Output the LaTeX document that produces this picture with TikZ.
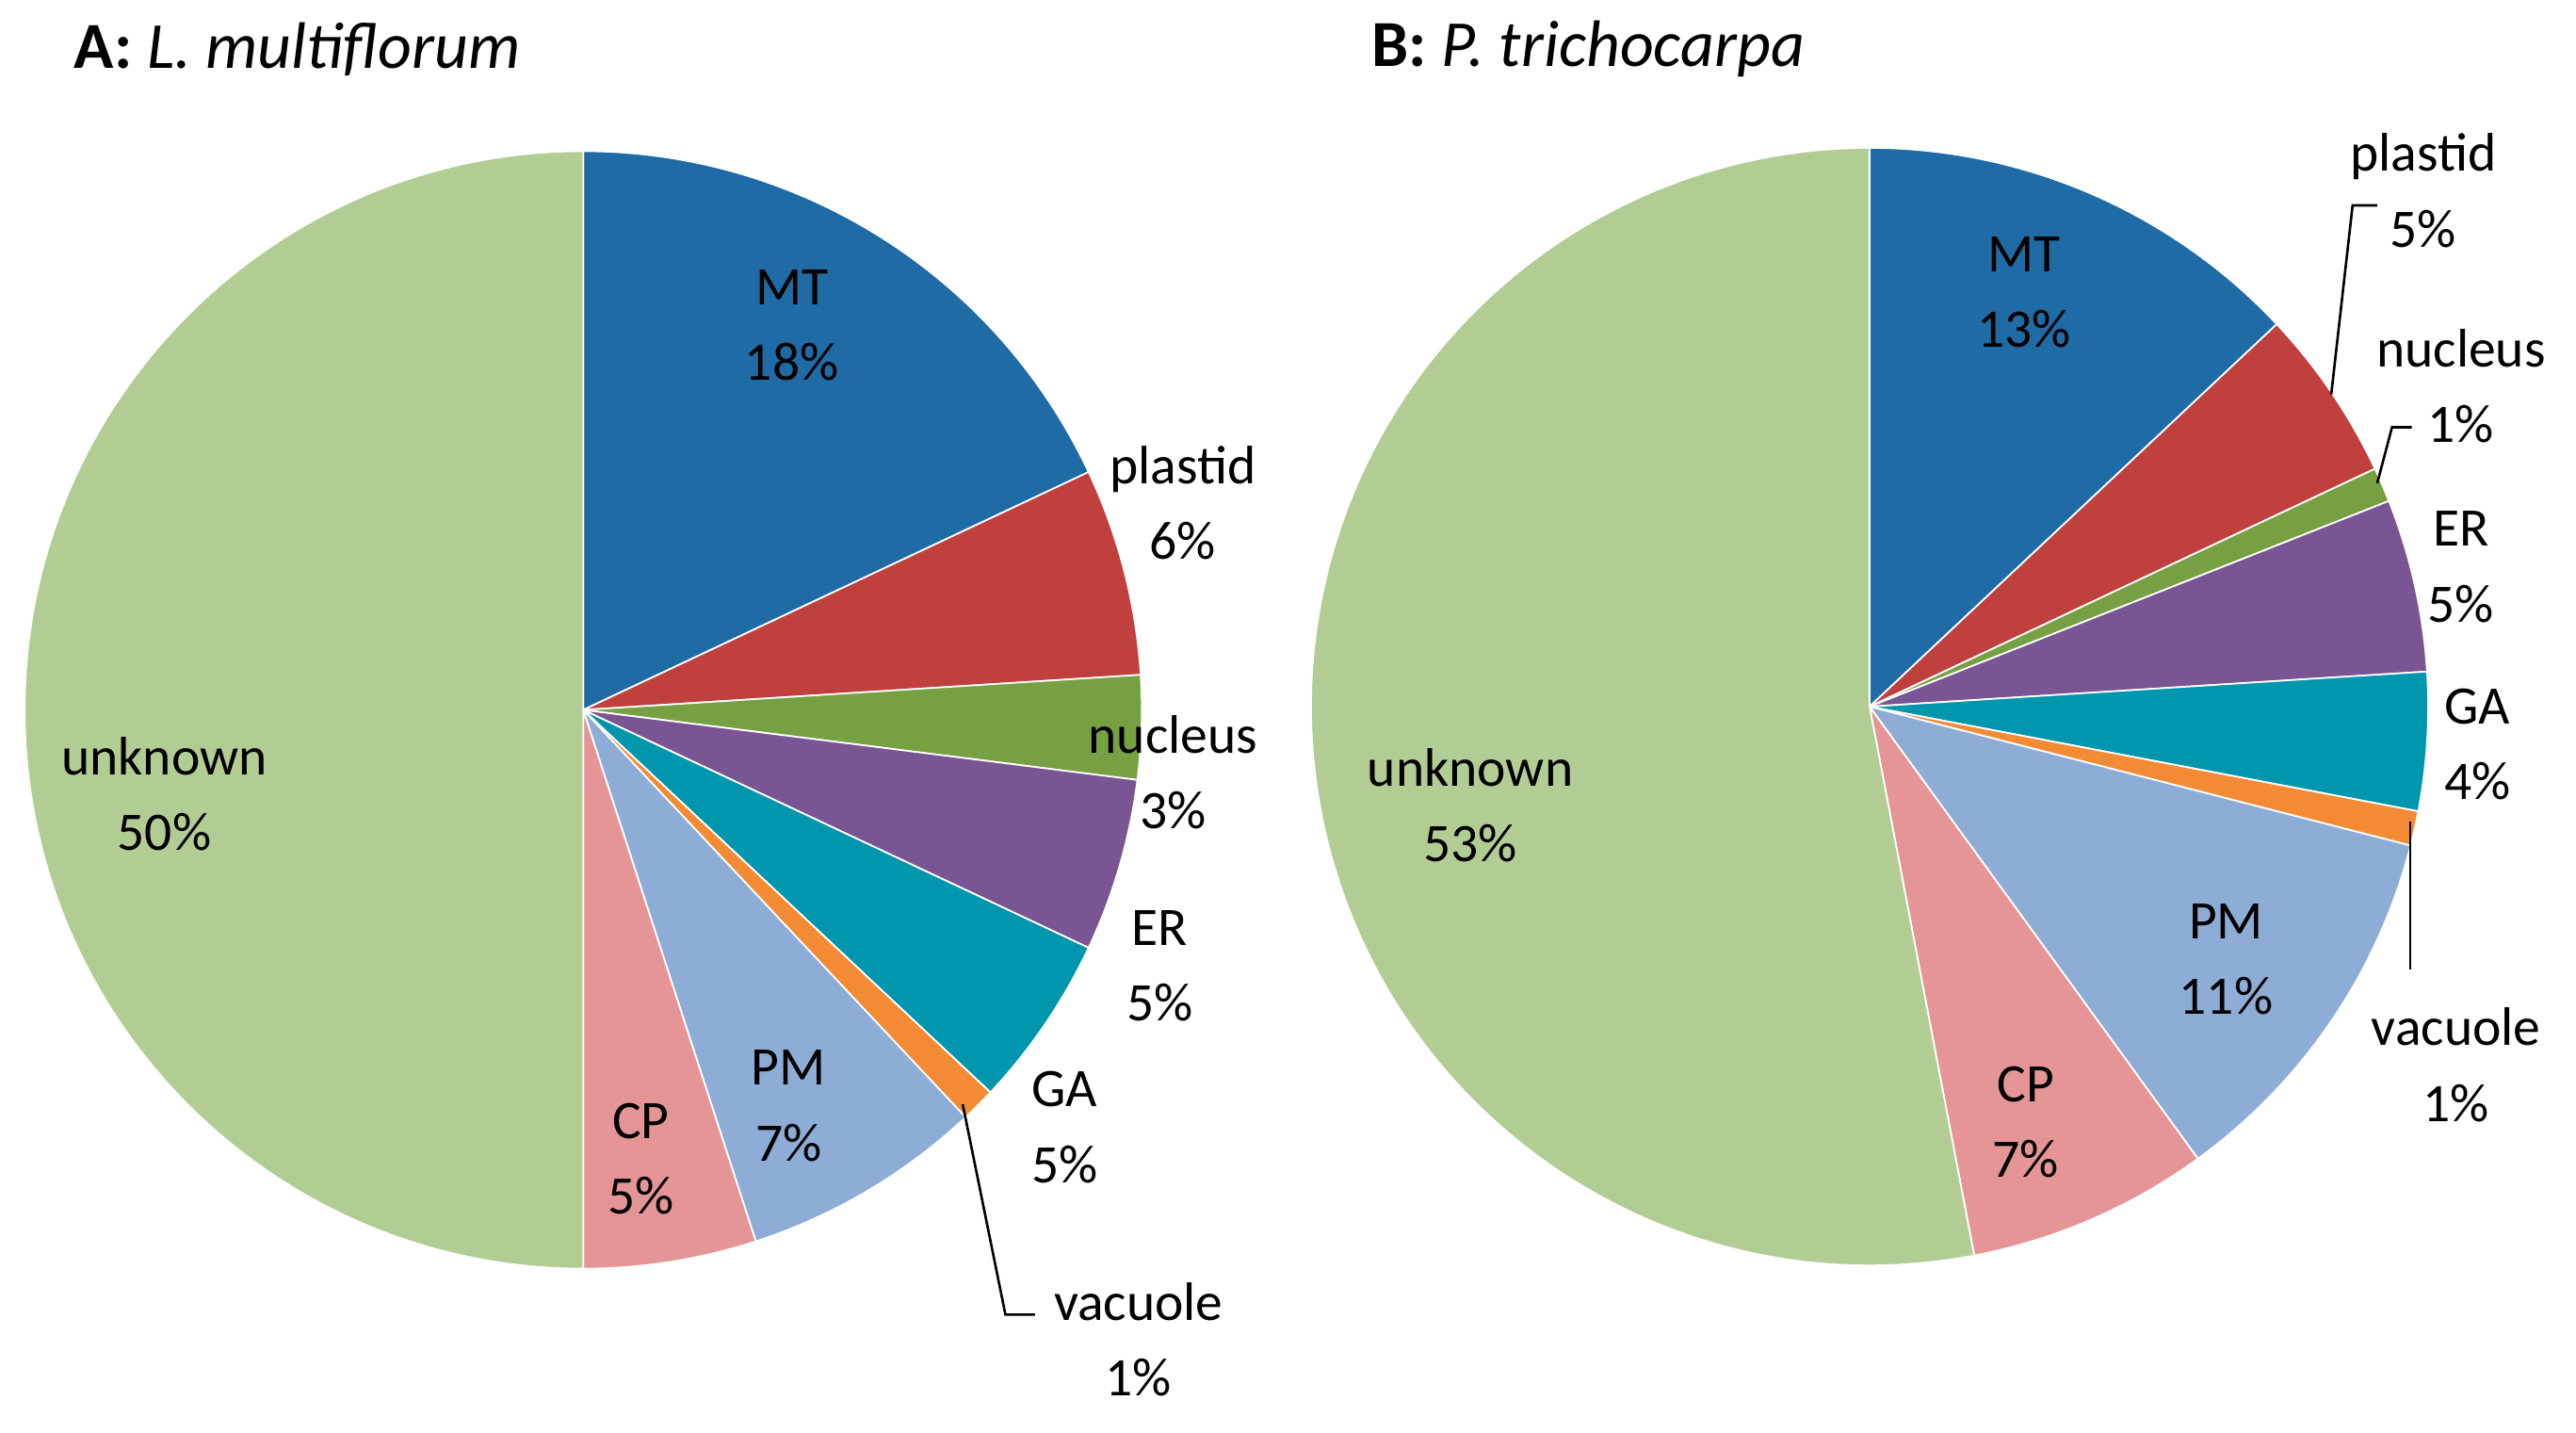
\documentclass[tikz,border=0pt]{standalone}
\usepackage{fontspec}
\setmainfont{Carlito}
\begin{document}
\begin{tikzpicture}[x=1pt,y=1pt,
 lab/.style={align=center,font=\fontsize{33}{46}\selectfont,inner sep=0pt},
 ttl/.style={anchor=west,font=\fontsize{40}{48}\selectfont,inner sep=0pt},
 lead/.style={draw=black,line width=1.5pt}]
\useasboundingbox (0,0) rectangle (1568,872);
\definecolor{cMT}{HTML}{1F6BA5}
\definecolor{cPL}{HTML}{C0403D}
\definecolor{cNU}{HTML}{77A043}
\definecolor{cER}{HTML}{7A5593}
\definecolor{cGA}{HTML}{0096AD}
\definecolor{cVA}{HTML}{F38B35}
\definecolor{cPM}{HTML}{8EADD6}
\definecolor{cCP}{HTML}{E59595}
\definecolor{cUN}{HTML}{B2CD94}
\newcommand{\myslice}[5]{\fill[#5,draw=white,line width=1pt] (#1) -- ++(#2:340) arc[start angle=#2,end angle=#3,radius=340] -- cycle;}
\coordinate (ca) at (355,440);
\coordinate (cb) at (1138,442);
% pie A
\myslice{ca}{90}{25.2}{}{cMT}
\myslice{ca}{25.2}{3.6}{}{cPL}
\myslice{ca}{3.6}{-7.2}{}{cNU}
\myslice{ca}{-7.2}{-25.2}{}{cER}
\myslice{ca}{-25.2}{-43.2}{}{cGA}
\myslice{ca}{-43.2}{-46.8}{}{cVA}
\myslice{ca}{-46.8}{-72}{}{cPM}
\myslice{ca}{-72}{-90}{}{cCP}
\myslice{ca}{-90}{-270}{}{cUN}
% pie B
\myslice{cb}{90}{43.2}{}{cMT}
\myslice{cb}{43.2}{25.2}{}{cPL}
\myslice{cb}{25.2}{21.6}{}{cNU}
\myslice{cb}{21.6}{3.6}{}{cER}
\myslice{cb}{3.6}{-10.8}{}{cGA}
\myslice{cb}{-10.8}{-14.4}{}{cVA}
\myslice{cb}{-14.4}{-54}{}{cPM}
\myslice{cb}{-54}{-79.2}{}{cCP}
\myslice{cb}{-79.2}{-270}{}{cUN}
% titles
\node[ttl] (ta) at (45,842) {\textbf{A:} \textit{L. multiflorum}};
\node[ttl] (tb) at (835,842) {\textbf{B:} \textit{P. trichocarpa}};
% labels A
\node[lab] (aMT) at (482,674) {MT\\18\%};
\node[lab] (aPL) at (720,566) {plastid\\6\%};
\node[lab] (aNU) at (714,402) {nucleus\\3\%};
\node[lab] (aER) at (706,284) {ER\\5\%};
\node[lab] (aGA) at (648,186) {GA\\5\%};
\node[lab] (aVA) at (693,57) {vacuole\\1\%};
\node[lab] (aPM) at (480,199) {PM\\7\%};
\node[lab] (aCP) at (390,167) {CP\\5\%};
\node[lab] (aUN) at (100,389) {unknown\\50\%};
\coordinate (aV1) at (586,200);
\coordinate (aV2) at (612,72);
\coordinate (aV3) at (630,72);
\draw[lead] (aV1) -- (aV2) -- (aV3);
% labels B
\node[lab] (bMT) at (1232,694) {MT\\13\%};
\node[lab] (bPL) at (1475,756) {plastid\\5\%};
\node[lab] (bNU) at (1498,637) {nucleus\\1\%};
\node[lab] (bER) at (1498,527) {ER\\5\%};
\node[lab] (bGA) at (1508,419) {GA\\4\%};
\node[lab] (bVA) at (1495,224) {vacuole\\1\%};
\node[lab] (bPM) at (1355,288) {PM\\11\%};
\node[lab] (bCP) at (1233,189) {CP\\7\%};
\node[lab] (bUN) at (895,382) {unknown\\53\%};
\coordinate (bP1) at (1419,632);
\coordinate (bP2) at (1432,747);
\coordinate (bP3) at (1447,747);
\draw[lead] (bP1) -- (bP2) -- (bP3);
\coordinate (bN1) at (1447,578);
\coordinate (bN2) at (1456,612);
\coordinate (bN3) at (1468,612);
\draw[lead] (bN1) -- (bN2) -- (bN3);
\coordinate (bV1) at (1467,372);
\coordinate (bV2) at (1467,282);
\draw[lead] (bV1) -- (bV2);
\end{tikzpicture}
\end{document}
